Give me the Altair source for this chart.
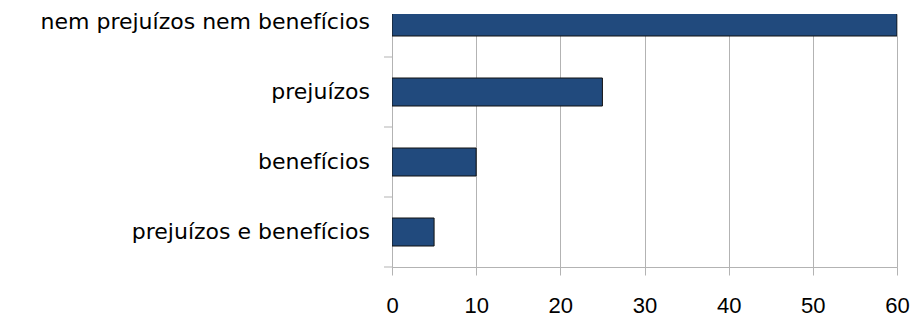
import altair as alt
import pandas as pd

# Data (bottom to top)
categories = ["prejuízos e benefícios", "benefícios", "prejuízos", "nem prejuízos nem benefícios"]
values = [5, 10, 25, 60]
x_ticks = [0, 10, 20, 30, 40, 50, 60]
band_edges = [0, 1, 2, 3]

df = pd.DataFrame({
    "cat": categories,
    "val": values,
    "idx": list(range(len(categories))),
})
df["base"] = 0
df["lo"] = df["idx"] + 0.3
df["hi"] = df["idx"] + 0.7
df["mid"] = df["idx"] + 0.5

edges = pd.DataFrame({"e": band_edges})

GRAY = "#b3b3b3"
W, H = 505, 253
ymax = H / 70.0

xscale = alt.Scale(domain=[0, 60], nice=False, zero=True, padding=0)
yscale = alt.Scale(domain=[0, ymax], nice=False, zero=False, padding=0)

bars = alt.Chart(df).mark_bar(
    color="#214a7d", stroke="#111111", strokeWidth=1, clip=True
).encode(
    x=alt.X("val:Q", scale=xscale,
            axis=alt.Axis(values=x_ticks, title=None, grid=True, gridColor=GRAY,
                          gridWidth=1, domainColor=GRAY, tickColor=GRAY, tickSize=8,
                          labelFont="Liberation Sans", labelFontSize=22,
                          labelColor="#000000", labelPadding=20, labelFlush=False)),
    x2="base:Q",
    y=alt.Y("lo:Q", scale=yscale,
            axis=alt.Axis(title=None, labels=False, ticks=False, grid=False,
                          domainColor=GRAY)),
    y2="hi:Q",
)

labels = alt.Chart(df).mark_text(
    align="right", baseline="middle", font="DejaVu Sans", fontSize=22,
    color="#000000"
).encode(
    x=alt.value(-22),
    y=alt.Y("mid:Q", scale=yscale),
    text="cat:N",
)

ticks = alt.Chart(edges).mark_rule(color=GRAY, strokeWidth=1).encode(
    x=alt.value(-8),
    x2=alt.value(0),
    y=alt.Y("e:Q", scale=yscale),
)

chart = alt.layer(bars, ticks, labels).properties(
    width=W,
    height=H,
    autosize=alt.AutoSizeParams(type="none"),
    padding={"left": 384, "top": 6, "right": 14, "bottom": 50},
).configure_view(stroke=None).configure(background="white")

chart.save("out.html", embed_options={"renderer": "svg", "actions": False})
